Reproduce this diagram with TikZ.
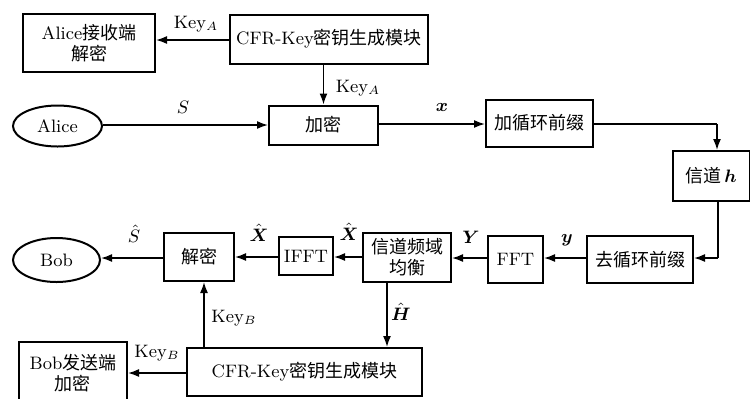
\documentclass[tikz,border=0pt]{standalone}
\usepackage{amsmath}
\usepackage{fontspec}
\newfontfamily\cjk{Noto Sans CJK SC}
\usetikzlibrary{arrows.meta,calc,shapes.geometric}
\begin{document}
\begin{tikzpicture}[x=0.5pt,y=-0.5pt,
  every node/.style={font=\fontsize{9}{10.5}\selectfont},
  box/.style={draw,line width=1pt,inner sep=0pt,align=center},
  oval/.style={draw,ellipse,line width=1pt,inner sep=0pt},
  arr/.style={line width=0.8pt,-{Latex[length=5.5pt,width=4pt]}},
  ln/.style={line width=0.8pt},
  lbl/.style={inner sep=0pt}]
\useasboundingbox (0,0) rectangle (750,398);
% row 1
\node[box,minimum width=66pt,minimum height=29pt] (aliceRx) at (89,43) {Alice{\cjk 接收端}\\{\cjk 解密}};
\node[box,minimum width=99pt,minimum height=24.5pt] (cfrA) at (329,39) {CFR-Key{\cjk 密钥生成模块}};
% row 2
\node[oval,minimum width=44.5pt,minimum height=20.5pt] (alice) at (57.5,126) {Alice};
\node[box,minimum width=54.5pt,minimum height=19.5pt] (enc) at (323.5,125) {\cjk 加密};
\node[box,minimum width=53.5pt,minimum height=23.5pt] (addcp) at (539.5,123) {\cjk 加循环前缀};
% channel
\node[box,minimum width=38.5pt,minimum height=25pt] (chan) at (711,176) {{\cjk 信道}\,$\boldsymbol{h}$};
% row 3
\node[box,minimum width=53pt,minimum height=23.5pt] (remcp) at (640,259.5) {\cjk 去循环前缀};
\node[box,minimum width=27.5pt,minimum height=23.5pt] (fft) at (515.5,259.5) {FFT};
\node[box,minimum width=44pt,minimum height=24.5pt] (equ) at (407,257.5) {\cjk 信道频域\\\cjk 均衡};
\node[box,minimum width=27pt,minimum height=19pt] (ifft) at (306,256) {IFFT};
\node[box,minimum width=35pt,minimum height=24pt] (dec) at (199,257) {\cjk 解密};
\node[oval,minimum width=43.5pt,minimum height=22pt] (bob) at (56.5,260) {Bob};
% row 4
\node[box,minimum width=117.5pt,minimum height=24pt] (cfrB) at (304.5,372) {CFR-Key{\cjk 密钥生成模块}};
\node[box,minimum width=54pt,minimum height=31pt] (bobTx) at (73,373) {Bob{\cjk 发送端}\\{\cjk 加密}};
% helper coordinates
\coordinate (c1) at (717,123);
\coordinate (c2) at (718,258);
\coordinate (decx) at (204,0);
\coordinate (equx) at (387,0);
% connectors
\draw[arr] (cfrA.west |- 0,40) -- (aliceRx.east |- 0,40);
\draw[arr] (enc.north |- cfrA.south) -- (enc.north);
\draw[arr] (alice.east |- 0,125) -- (enc.west |- 0,125);
\draw[arr] (enc.east |- 0,124) -- (addcp.west |- 0,124);
\draw[ln] (addcp.east |- 0,124) -- (c1 |- 0,124);
\draw[arr] (c1 |- 0,124) -- (c1 |- chan.north);
\draw[ln] (c2 |- chan.south) -- (c2);
\draw[arr] (c2) -- (remcp.east |- c2);
\draw[arr] (remcp.west |- 0,258) -- (fft.east |- 0,258);
\draw[arr] (fft.west |- 0,258) -- (equ.east |- 0,258);
\draw[arr] (equ.west |- 0,257) -- (ifft.east |- 0,257);
\draw[arr] (ifft.west |- 0,257) -- (dec.east |- 0,257);
\draw[arr] (dec.west |- 0,258) -- (bob.east |- 0,258);
\draw[arr] (equx |- equ.south) -- (equx |- cfrB.north);
\draw[arr] (decx |- cfrB.north) -- (decx |- dec.south);
\draw[arr] (cfrB.west |- 0,373) -- (bobTx.east |- 0,373);
% labels
\node[lbl] (lkA1) at (196,24) {Key$_A$};
\node[lbl] (lkA2) at (358,88) {Key$_A$};
\node[lbl] (lS) at (183,107) {$S$};
\node[lbl] (lx) at (442,107) {$\boldsymbol{x}$};
\node[lbl] (ly) at (567,240) {$\boldsymbol{y}$};
\node[lbl] (lY) at (471,237) {$\boldsymbol{Y}$};
\node[lbl] (lX2) at (349,232) {$\hat{\boldsymbol{X}}$};
\node[lbl] (lX1) at (259,233) {$\hat{\boldsymbol{X}}$};
\node[lbl] (lSh) at (134,234) {$\hat{S}$};
\node[lbl] (lH) at (401,312) {$\hat{\boldsymbol{H}}$};
\node[lbl] (lkB1) at (234,318) {Key$_B$};
\node[lbl] (lkB2) at (157,353) {Key$_B$};
\end{tikzpicture}
\end{document}
